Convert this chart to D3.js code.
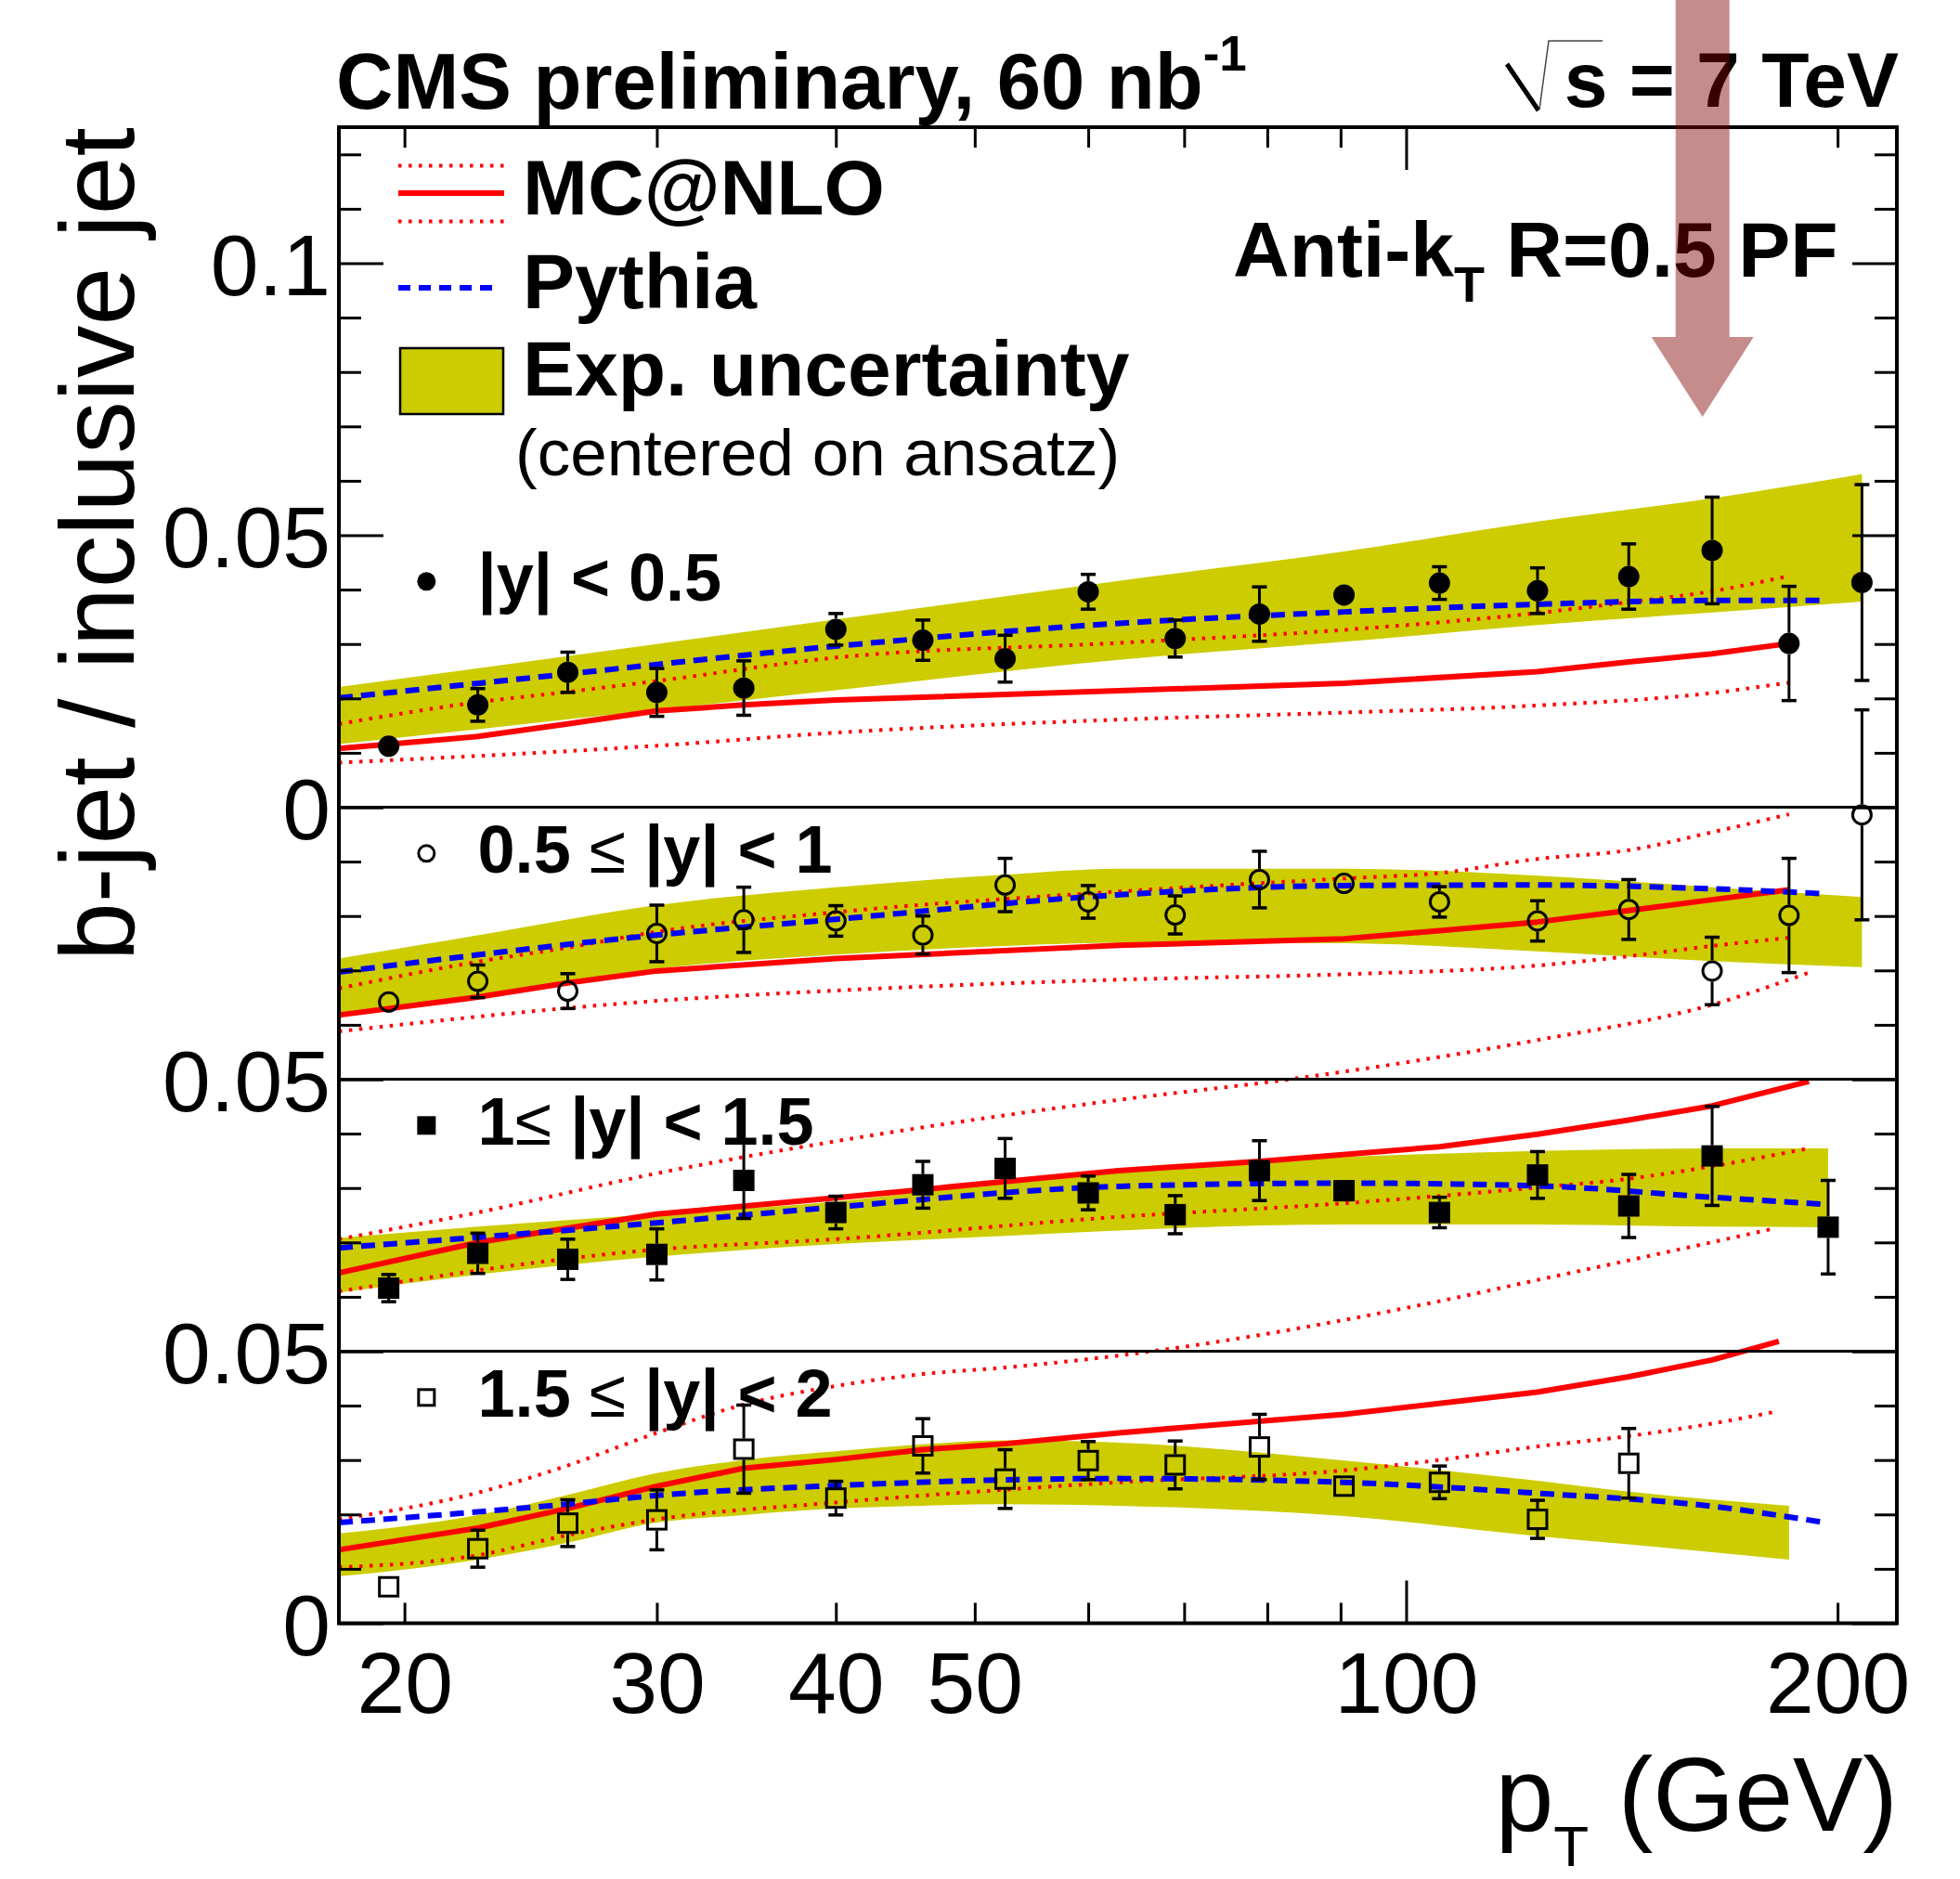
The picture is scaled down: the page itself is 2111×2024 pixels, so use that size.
<!DOCTYPE html>
<html>
<head>
<meta charset="utf-8">
<script src="https://cdn.jsdelivr.net/npm/d3@7"></script>
<style>
  html, body { margin: 0; padding: 0; background: #ffffff; }
  svg { display: block; }
  text { font-family: "Liberation Sans", Arial, Helvetica, sans-serif; }
</style>
</head>
<body>
<svg id="chart" width="2111" height="2024"></svg>
<script>
// ---------------------------------------------------------------
// b-jet fraction vs jet pT in four rapidity bins (CMS, 7 TeV)
// ---------------------------------------------------------------

// jet pT bin centres (GeV)
const PT_BINS = [19.5, 22.5, 26, 30, 34.5, 40, 46, 52.5, 60, 69, 79, 90.5, 105.5, 123.5, 143, 163.5, 185, 208];
const PT_BINS_Y3 = [19.5, 22.5, 26, 30, 34.5, 40, 46, 52.5, 60, 69, 79, 90.5, 105.5, 123.5, 143, 163.5, 197];
const PT_BINS_Y4 = [19.5, 22.5, 26, 30, 34.5, 40, 46, 52.5, 60, 69, 79, 90.5, 105.5, 123.5, 143];

// measured b-jet / inclusive jet fractions and their uncertainties
const FRAC_Y1 = [0.0112, 0.0188, 0.0248, 0.0211, 0.0219, 0.0327, 0.0307, 0.0273, 0.0396, 0.0310, 0.0355, 0.0390, 0.0412, 0.0398, 0.0424, 0.0472, 0.0301, 0.0413];
const ERR_Y1  = [0.0008, 0.0030, 0.0037, 0.0044, 0.0050, 0.0029, 0.0037, 0.0043, 0.0032, 0.0034, 0.0050, 0.0010, 0.0030, 0.0042, 0.0060, 0.0098, 0.0105, 0.0180];
const FRAC_Y2 = [0.0142, 0.0180, 0.0162, 0.0268, 0.0293, 0.0291, 0.0265, 0.0357, 0.0326, 0.0302, 0.0367, 0.0360, 0.0326, 0.0291, 0.0312, 0.0199, 0.0301, 0.0486];
const ERR_Y2  = [0.0008, 0.0030, 0.0032, 0.0052, 0.0060, 0.0028, 0.0035, 0.0049, 0.0030, 0.0035, 0.0052, 0.0010, 0.0028, 0.0037, 0.0055, 0.0062, 0.0105, 0.0193];
const FRAC_Y3 = [0.0116, 0.0180, 0.0169, 0.0178, 0.0314, 0.0255, 0.0306, 0.0336, 0.0291, 0.0251, 0.0332, 0.0295, 0.0255, 0.0324, 0.0267, 0.0359, 0.0228];
const ERR_Y3  = [0.0025, 0.0037, 0.0037, 0.0047, 0.0070, 0.0030, 0.0043, 0.0055, 0.0031, 0.0035, 0.0055, 0.0010, 0.0028, 0.0043, 0.0058, 0.0091, 0.0086];
const FRAC_Y4 = [0.0067, 0.0137, 0.0184, 0.0190, 0.0320, 0.0230, 0.0326, 0.0265, 0.0299, 0.0291, 0.0324, 0.0252, 0.0259, 0.0191, 0.0294];
const ERR_Y4  = [0.0008, 0.0034, 0.0043, 0.0055, 0.0081, 0.0031, 0.0050, 0.0054, 0.0035, 0.0044, 0.0060, 0.0010, 0.0030, 0.0035, 0.0064];

// MC@NLO central prediction and its upper / lower variations: [pT, fraction]
const MC_Y1 = [[18,0.0108],[22.5,0.0130],[26,0.0153],[30,0.0177],[34.5,0.0188],[40,0.0197],[63,0.0214],[90.5,0.0228],[123.5,0.0249],[143,0.0267],[163.5,0.0282],[185,0.0301]];
const MC_UP_Y1 = [[18,0.0153],[22.5,0.0193],[26,0.0212],[30,0.0232],[40,0.0275],[63,0.0302],[90.5,0.0326],[123.5,0.0357],[143,0.0377],[163.5,0.0397],[185,0.0425]];
const MC_LO_Y1 = [[18,0.0082],[30,0.0113],[40,0.0137],[63,0.0161],[90.5,0.0174],[123.5,0.0187],[163.5,0.0210],[185,0.0229]];

const MC_Y2 = [[18,0.0118],[22.5,0.0151],[26,0.0177],[30,0.0199],[40,0.0222],[63,0.0246],[90.5,0.0258],[105.5,0.0273],[123.5,0.0289],[143,0.0310],[163.5,0.0330],[185,0.0348]];
const MC_UP_Y2 = [[18,0.0167],[22.5,0.0216],[26,0.0242],[30,0.0271],[40,0.0307],[63,0.0345],[90.5,0.0369],[105.5,0.0379],[123.5,0.0405],[143,0.0421],[163.5,0.0454],[185,0.0487]];
const MC_LO_Y2 = [[18,0.0088],[30,0.0144],[40,0.0163],[63,0.0183],[90.5,0.0193],[123.5,0.0209],[143,0.0226],[163.5,0.0245],[185,0.0260]];

const MC_Y3 = [[18,0.0144],[22.5,0.0200],[30,0.0252],[40,0.0282],[63,0.0332],[79,0.0349],[105.5,0.0376],[123.5,0.0399],[143,0.0425],[163.5,0.0451],[191,0.0496]];
const MC_UP_Y3 = [[18,0.0206],[22.5,0.0255],[30,0.0327],[40,0.0386],[63,0.0462],[83,0.0500],[123.5,0.0572],[163.5,0.0637],[191,0.0696]];
const MC_LO_Y3 = [[18,0.0110],[30,0.0187],[40,0.0206],[63,0.0247],[90.5,0.0272],[123.5,0.0301],[143,0.0317],[163.5,0.0340],[191,0.0373]];

const MC_Y4 = [[18,0.0135],[22.5,0.0175],[26,0.0211],[30,0.0252],[34.5,0.0285],[40,0.0301],[46,0.0319],[52.5,0.0330],[63,0.0350],[90.5,0.0384],[123.5,0.0425],[143,0.0453],[163.5,0.0484],[182,0.0518]];
const MC_UP_Y4 = [[18,0.0191],[22.5,0.0240],[26,0.0290],[30,0.0350],[34.5,0.0402],[40,0.0436],[46,0.0458],[52.5,0.0470],[63,0.0492],[105.5,0.0592],[123.5,0.0631],[143,0.0667],[181,0.0726]];
const MC_LO_Y4 = [[18,0.0103],[22.5,0.0125],[26,0.0162],[30,0.0191],[40,0.0222],[63,0.0259],[90.5,0.0281],[105.5,0.0300],[123.5,0.0325],[143,0.0344],[163.5,0.0367],[182,0.0390]];

// Pythia prediction: [pT, fraction]
const PY_Y1 = [[18,0.0201],[26,0.0245],[40,0.0296],[63,0.0338],[90.5,0.0359],[123.5,0.0373],[163.5,0.0380],[196,0.0380]];
const PY_Y2 = [[18,0.0197],[30,0.0265],[40,0.0294],[63,0.0339],[90.5,0.0356],[123.5,0.0357],[163.5,0.0350],[196,0.0341]];
const PY_Y3 = [[18,0.0190],[30,0.0236],[40,0.0265],[63,0.0303],[90.5,0.0309],[123.5,0.0304],[163.5,0.0283],[196,0.0270]];
const PY_Y4 = [[18,0.0185],[26,0.0219],[30,0.0235],[40,0.0253],[63,0.0266],[90.5,0.0259],[123.5,0.0239],[163.5,0.0215],[196,0.0185]];

// experimental uncertainty band centred on the ansatz: [pT, low, high]
const BAND_Y1 = [[18,0.0116,0.0221],[30,0.0179,0.0300],[40,0.0215,0.0345],[63,0.0271,0.0416],[90.5,0.0304,0.0470],[123.5,0.0335,0.0525],[163.5,0.0358,0.0568],[208,0.0378,0.0612]];
const BAND_Y2 = [[18,0.0115,0.0222],[22.9,0.0154,0.0268],[30,0.0203,0.0320],[40,0.0229,0.0353],[52.5,0.0245,0.0376],[63,0.0251,0.0387],[90.5,0.0250,0.0387],[123.5,0.0235,0.0374],[163.5,0.0217,0.0353],[208,0.0206,0.0335]];
const BAND_Y3 = [[18,0.0108,0.0208],[22.5,0.0141,0.0229],[30,0.0174,0.0252],[40,0.0197,0.0275],[52.5,0.0212,0.0313],[63,0.0222,0.0336],[90.5,0.0233,0.0357],[123.5,0.0233,0.0368],[163.5,0.0229,0.0373],[197,0.0228,0.0373]];
const BAND_Y4 = [[18,0.0086,0.0165],[22.5,0.0117,0.0199],[26,0.0148,0.0236],[30,0.0185,0.0276],[34.5,0.0199,0.0300],[40,0.0211,0.0316],[46,0.0216,0.0329],[52.5,0.0219,0.0336],[63,0.0216,0.0332],[90.5,0.0197,0.0299],[123.5,0.0160,0.0262],[143,0.0145,0.0242],[185,0.0117,0.0216]];

// rapidity bin labels
const RAPIDITY_LABELS = ["|y| < 0.5", "0.5 ≤ |y| < 1", "1≤ |y| < 1.5", "1.5 ≤ |y| < 2"];

// axis ticks
const X_MINOR_TICKS = [20, 30, 40, 50, 60, 70, 80, 90, 200];
const X_MAJOR_TICKS = [100];
const X_TICK_LABELS = [20, 30, 40, 50, 100, 200];
const Y_TICK_LABELS = [[0, 0.05, 0.1], [], [0.05], [0, 0.05]];
const Y_MAX_TOP = 0.125;
const Y_SPAN = 0.05;

// pT of the highlighted threshold
const ARROW_PT = 161;

// ---------------------------------------------------------------
const svg = d3.select("#chart");
const FRAME = { left: 365, right: 2043, top: 137 };
const UNIT = 293;                      // pixels per 0.05
const topBottom = FRAME.top + UNIT * Y_MAX_TOP / Y_SPAN;
const bottoms = [0, 1, 2, 3].map(k => topBottom + k * UNIT);
FRAME.bottom = bottoms[3];

const x = d3.scaleLog().domain([18, 220]).range([FRAME.left, FRAME.right]);
const yScales = bottoms.map(b => d3.scaleLinear().domain([0, Y_SPAN]).range([b, b - UNIT]));

const YELLOW = "#cccc00", RED = "#ff0000", BLUE = "#0000ff";
const DOT = "3.5,7.5", DASH = "15,9";

const panels = [
  { pts: PT_BINS,    frac: FRAC_Y1, err: ERR_Y1, mc: MC_Y1, up: MC_UP_Y1, lo: MC_LO_Y1, py: PY_Y1, band: BAND_Y1, marker: "filledCircle" },
  { pts: PT_BINS,    frac: FRAC_Y2, err: ERR_Y2, mc: MC_Y2, up: MC_UP_Y2, lo: MC_LO_Y2, py: PY_Y2, band: BAND_Y2, marker: "openCircle" },
  { pts: PT_BINS_Y3, frac: FRAC_Y3, err: ERR_Y3, mc: MC_Y3, up: MC_UP_Y3, lo: MC_LO_Y3, py: PY_Y3, band: BAND_Y3, marker: "filledSquare" },
  { pts: PT_BINS_Y4, frac: FRAC_Y4, err: ERR_Y4, mc: MC_Y4, up: MC_UP_Y4, lo: MC_LO_Y4, py: PY_Y4, band: BAND_Y4, marker: "openSquare" }
];

// marker drawing helper
function addMarker(sel, kind, size) {
  const s = size;
  if (kind === "filledCircle") {
    sel.append("circle").attr("r", s).attr("fill", "#000");
  } else if (kind === "openCircle") {
    sel.append("circle").attr("r", s - 1.5).attr("fill", "none").attr("stroke", "#000").attr("stroke-width", 3);
  } else if (kind === "filledSquare") {
    sel.append("rect").attr("x", -s).attr("y", -s).attr("width", 2 * s).attr("height", 2 * s).attr("fill", "#000");
  } else {
    sel.append("rect").attr("x", -s + 1.5).attr("y", -s + 1.5).attr("width", 2 * s - 3).attr("height", 2 * s - 3)
      .attr("fill", "none").attr("stroke", "#000").attr("stroke-width", 3);
  }
}

const gBands = svg.append("g");
const gCurves = svg.append("g");
const gData = svg.append("g");

panels.forEach((p, k) => {
  const y = yScales[k];

  // uncertainty band
  const area = d3.area()
    .x(d => x(d[0])).y0(d => y(d[1])).y1(d => y(d[2]))
    .curve(d3.curveMonotoneX);
  gBands.append("path").datum(p.band).attr("d", area).attr("fill", YELLOW).attr("stroke", "none");

  // MC@NLO variations (dotted) and central (solid)
  const smooth = d3.line().x(d => x(d[0])).y(d => y(d[1])).curve(d3.curveMonotoneX);
  const straight = d3.line().x(d => x(d[0])).y(d => y(d[1]));
  [p.up, p.lo].forEach(c => {
    gCurves.append("path").datum(c).attr("d", smooth)
      .attr("fill", "none").attr("stroke", RED).attr("stroke-width", 4).attr("stroke-dasharray", DOT);
  });
  gCurves.append("path").datum(p.mc).attr("d", straight)
    .attr("fill", "none").attr("stroke", RED).attr("stroke-width", 6).attr("stroke-linejoin", "round");

  // Pythia (dashed)
  gCurves.append("path").datum(p.py).attr("d", smooth)
    .attr("fill", "none").attr("stroke", BLUE).attr("stroke-width", 6).attr("stroke-dasharray", DASH);

  // data points with error bars
  const rows = d3.zip(p.pts, p.frac, p.err);
  const gap = 11.5, cap = 8;
  const pt = gData.selectAll(null).data(rows).join("g")
    .attr("transform", d => `translate(${x(d[0])},${y(d[1])})`);
  pt.each(function (d) {
    const g = d3.select(this);
    const up = y(d[1] + d[2]) - y(d[1]);   // negative
    const dn = y(d[1] - d[2]) - y(d[1]);   // positive
    if (-up > gap) {
      g.append("line").attr("x1", 0).attr("x2", 0).attr("y1", up).attr("y2", -gap)
        .attr("stroke", "#000").attr("stroke-width", 3);
      g.append("line").attr("x1", -cap).attr("x2", cap).attr("y1", up).attr("y2", up)
        .attr("stroke", "#000").attr("stroke-width", 3.5);
    }
    if (dn > gap) {
      g.append("line").attr("x1", 0).attr("x2", 0).attr("y1", gap).attr("y2", dn)
        .attr("stroke", "#000").attr("stroke-width", 3);
      g.append("line").attr("x1", -cap).attr("x2", cap).attr("y1", dn).attr("y2", dn)
        .attr("stroke", "#000").attr("stroke-width", 3.5);
    }
    addMarker(g, p.marker, 11.5);
  });

  // rapidity label with its marker
  const lab = svg.append("g");
  const mk = lab.append("g").attr("transform", `translate(${x(20.72)},${y(0.0415)})`);
  addMarker(mk, p.marker, 10);
  const t = lab.append("text").attr("x", x(22.5)).attr("y", y(0.038))
    .attr("font-size", 72).attr("font-weight", "bold");
  const parts = RAPIDITY_LABELS[k].split("≤");
  parts.forEach((s, i) => {
    if (i > 0) t.append("tspan").attr("font-weight", "normal").text("≤");
    t.append("tspan").text(s);
  });
});

// panel separators
svg.append("g").selectAll("line").data(bottoms.slice(0, 3)).join("line")
  .attr("x1", FRAME.left).attr("x2", FRAME.right).attr("y1", d => d).attr("y2", d => d)
  .attr("stroke", "#000").attr("stroke-width", 3);

// ---------------- axes ----------------
function styleAxis(g) {
  g.select(".domain").remove();
  g.selectAll(".tick line").attr("stroke", "#000").attr("stroke-width", 3);
}

panels.forEach((p, k) => {
  const y = yScales[k];
  const maxV = k === 0 ? Y_MAX_TOP : Y_SPAN;
  const all = d3.range(0, maxV + 1e-9, 0.01).map(v => +v.toFixed(3));
  const majors = all.filter(v => Math.abs(v / 0.05 - Math.round(v / 0.05)) < 1e-6);
  const minors = all.filter(v => !majors.includes(v));

  [[d3.axisLeft, FRAME.left], [d3.axisRight, FRAME.right]].forEach(([ax, xpos]) => {
    svg.append("g").attr("transform", `translate(${xpos},0)`)
      .call(ax(y).tickValues(minors).tickSize(-24).tickFormat(""))
      .call(styleAxis);
    svg.append("g").attr("transform", `translate(${xpos},0)`)
      .call(ax(y).tickValues(majors).tickSize(-48).tickFormat(""))
      .call(styleAxis);
  });

  // tick labels
  const lab = svg.append("g").attr("transform", `translate(${FRAME.left},0)`)
    .call(d3.axisLeft(y).tickValues(Y_TICK_LABELS[k]).tickSize(0).tickPadding(9)
      .tickFormat(v => v === 0 ? "0" : String(v)));
  lab.select(".domain").remove();
  lab.selectAll("text").attr("font-size", 93).attr("font-family", "'Liberation Sans', Arial, sans-serif")
    .attr("fill", "#000").attr("dy", "0.37em");
});

// x axis: bottom of last panel and top of first panel
[[d3.axisBottom, FRAME.bottom], [d3.axisTop, FRAME.top]].forEach(([ax, ypos]) => {
  svg.append("g").attr("transform", `translate(0,${ypos})`)
    .call(ax(x).tickValues(X_MINOR_TICKS).tickSize(-22).tickFormat(""))
    .call(styleAxis);
  svg.append("g").attr("transform", `translate(0,${ypos})`)
    .call(ax(x).tickValues(X_MAJOR_TICKS).tickSize(-46).tickFormat(""))
    .call(styleAxis);
});
const xl = svg.append("g").attr("transform", `translate(0,${FRAME.bottom})`)
  .call(d3.axisBottom(x).tickValues(X_TICK_LABELS).tickSize(0).tickPadding(30).tickFormat(d3.format("d")));
xl.select(".domain").remove();
xl.selectAll("text").attr("font-size", 93).attr("font-family", "'Liberation Sans', Arial, sans-serif").attr("fill", "#000");

// frame
svg.append("rect")
  .attr("x", FRAME.left).attr("y", FRAME.top)
  .attr("width", FRAME.right - FRAME.left).attr("height", FRAME.bottom - FRAME.top)
  .attr("fill", "none").attr("stroke", "#000").attr("stroke-width", 4);

// axis titles
svg.append("text")
  .attr("transform", `translate(144,${FRAME.top}) rotate(-90)`)
  .attr("text-anchor", "end").attr("font-size", 113)
  .text("b-jet / inclusive jet");

const xt = svg.append("text").attr("x", 2044).attr("y", 1972).attr("text-anchor", "end").attr("font-size", 113);
xt.append("tspan").text("p");
xt.append("tspan").attr("font-size", 62).attr("dy", 38).text("T");
xt.append("tspan").attr("dy", -38).text(" (GeV)");

// header texts
const h1 = svg.append("text").attr("x", 362).attr("y", 117).attr("font-size", 85).attr("font-weight", "bold");
h1.append("tspan").text("CMS preliminary, 60 nb");
h1.append("tspan").attr("font-size", 53).attr("dy", -41).text("-1");

svg.append("text").attr("x", 2045).attr("y", 115).attr("text-anchor", "end")
  .attr("font-size", 84).attr("font-weight", "bold").text("s = 7 TeV");
svg.append("path").attr("d", "M1623,69 L1657,119").attr("stroke", "#000").attr("stroke-width", 5).attr("fill", "none");
svg.append("path").attr("d", "M1658,118 L1668,44 L1726,44").attr("stroke", "#444").attr("stroke-width", 1.5).attr("fill", "none");

const alg = svg.append("text").attr("x", 1328).attr("y", 298).attr("font-size", 84).attr("font-weight", "bold");
alg.append("tspan").text("Anti-k");
alg.append("tspan").attr("font-size", 54).attr("dy", 27).text("T");
alg.append("tspan").attr("dy", -27).text(" R=0.5 PF");

// ---------------- legend ----------------
const leg = svg.append("g");
leg.append("line").attr("x1", 429).attr("x2", 543).attr("y1", 178.5).attr("y2", 178.5)
  .attr("stroke", RED).attr("stroke-width", 4).attr("stroke-dasharray", DOT);
leg.append("line").attr("x1", 429).attr("x2", 543).attr("y1", 208).attr("y2", 208)
  .attr("stroke", RED).attr("stroke-width", 6);
leg.append("line").attr("x1", 429).attr("x2", 543).attr("y1", 238.5).attr("y2", 238.5)
  .attr("stroke", RED).attr("stroke-width", 4).attr("stroke-dasharray", DOT);
leg.append("line").attr("x1", 429).attr("x2", 531).attr("y1", 310).attr("y2", 310)
  .attr("stroke", BLUE).attr("stroke-width", 6).attr("stroke-dasharray", "13,9");
leg.append("rect").attr("x", 431).attr("y", 375).attr("width", 111).attr("height", 71)
  .attr("fill", YELLOW).attr("stroke", "#000").attr("stroke-width", 2.5);
[["MC@NLO", 231], ["Pythia", 332], ["Exp. uncertainty", 426]].forEach(([s, yb]) => {
  leg.append("text").attr("x", 563).attr("y", yb).attr("font-size", 84).attr("font-weight", "bold").text(s);
});
leg.append("text").attr("x", 555).attr("y", 512).attr("font-size", 71).text("(centered on ansatz)");

// ---------------- threshold arrow ----------------
const ax0 = x(ARROW_PT);
svg.append("path")
  .attr("d", `M${ax0 - 29},0 L${ax0 + 29},0 L${ax0 + 29},363 L${ax0 + 55},363 L${ax0},449 L${ax0 - 55},363 L${ax0 - 29},363 Z`)
  .attr("fill", "#800000").attr("fill-opacity", 0.45);
</script>
</body>
</html>
